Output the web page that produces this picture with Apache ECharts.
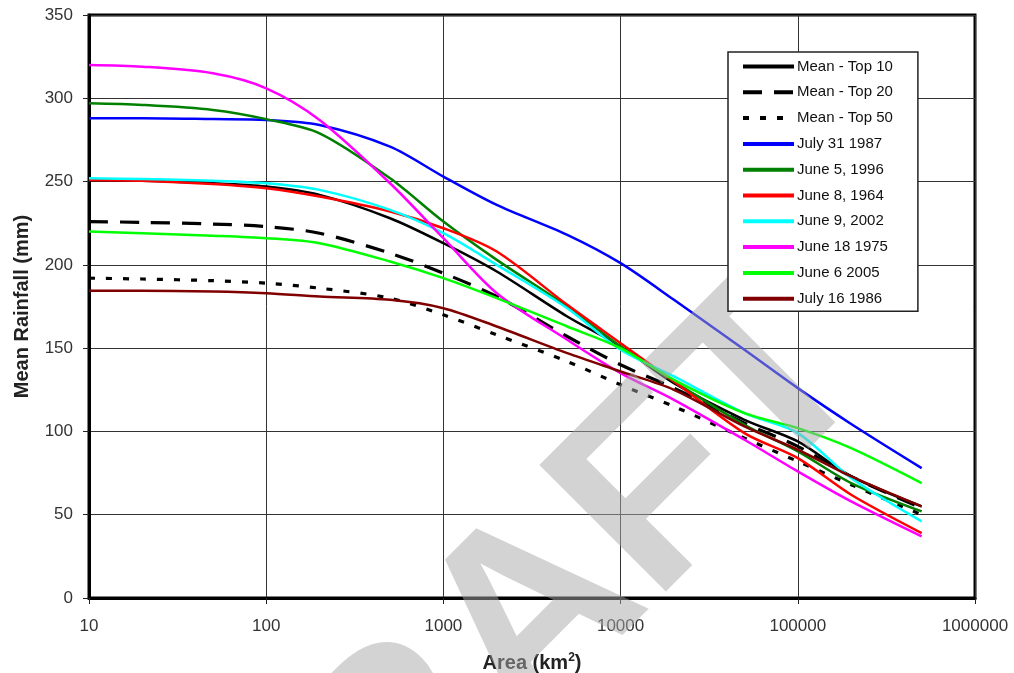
<!DOCTYPE html>
<html>
<head>
<meta charset="utf-8">
<script src="https://cdn.jsdelivr.net/npm/echarts@6/dist/echarts.min.js"></script>
<style>html,body{margin:0;padding:0;background:#fff}#c{width:1014px;height:673px}</style>
</head>
<body>
<div id="c"></div>
<script>
const areas = [10, 20, 50, 100, 200, 500, 1000, 2000, 5000, 10000, 20000, 50000, 100000, 200000, 500000];
const seriesNames = ['Mean - Top 10', 'Mean - Top 20', 'Mean - Top 50', 'July 31 1987', 'June 5, 1996', 'June 8, 1964', 'June 9, 2002', 'June 18 1975', 'June 6 2005', 'July 16 1986'];
const top10   = [251, 250.5, 249, 247, 242, 228, 213, 196, 169, 151, 129, 107, 94, 73, 55];
const top20   = [226, 225.5, 224.5, 223, 219, 207, 195, 181, 157, 140, 126, 105, 91, 73, 54];
const top50   = [192, 191.5, 190.5, 189, 186, 180, 170, 158, 142, 128, 115, 96, 82, 68, 50];
const jul1987 = [288, 288, 287.5, 287, 284, 271, 253, 236, 218, 201, 179, 149, 126, 104.5, 78];
const jun1996 = [297, 296, 293, 287.5, 279, 252, 226, 203, 175, 151, 130, 104, 88, 69, 52];
const jun1964 = [251, 250.5, 248.5, 246, 241, 232, 222, 208, 176, 153, 130, 99, 84, 62, 39];
const jun2002 = [252, 251.5, 250.5, 249, 245, 233, 219, 200, 174, 149, 133, 111, 99, 72, 46];
const jun1975 = [320, 319, 315, 306, 287, 249, 216, 183, 155, 135, 119, 95, 76, 58, 37];
const jun2005 = [220, 219, 217.5, 216, 213, 202, 192, 180, 163, 150, 131, 111, 102, 90, 69];
const jul1986 = [184.5, 184.5, 184, 183, 181, 179, 174, 163, 147, 136, 125, 103, 89, 73, 55];
const yTicks = [0, 50, 100, 150, 200, 250, 300, 350];
const xTicks = [10, 100, 1000, 10000, 100000, 1000000];

const values = [top10, top20, top50, jul1987, jun1996, jun1964, jun2002, jun1975, jun2005, jul1986];
const colors = ['#000000', '#000000', '#000000', '#0000ff', '#008000', '#ff0000', '#00ffff', '#ff00ff', '#00ff00', '#800000'];
const dashes = ['solid', [19, 12], [6, 11], 'solid', 'solid', 'solid', 'solid', 'solid', 'solid', 'solid'];
const widths = [2.5, 3.2, 3.2, 2.5, 2.5, 2.5, 2.5, 2.5, 2.5, 2.5];

const FONT = 'Liberation Sans, Arial, sans-serif';
const chart = echarts.init(document.getElementById('c'), null, {renderer: 'canvas'});

const series = values.map((vals, i) => ({
  name: seriesNames[i],
  type: 'line',
  smooth: 0.3,
  symbol: 'none',
  showSymbol: false,
  data: areas.map((a, j) => [a, vals[j]]),
  lineStyle: {color: colors[i], width: widths[i], type: dashes[i]},
  itemStyle: {color: colors[i]},
  emphasis: {disabled: true},
  z: 2
}));

chart.setOption({
  animation: false,
  backgroundColor: '#fff',
  grid: {left: 89, right: 39, top: 15, bottom: 75, show: true, borderColor: '#000', borderWidth: 3,
         backgroundColor: 'transparent', containLabel: false, outerBoundsMode: 'none'},
  legend: {
    orient: 'vertical',
    left: 728, top: 52,
    z: 20,
    padding: [7, 25, 5, 13],
    itemWidth: 51, itemHeight: 14, itemGap: 10.8,
    backgroundColor: '#fff',
    borderColor: '#222', borderWidth: 1.5,
    textStyle: {fontFamily: FONT, fontSize: 15, color: '#111', padding: [0, 0, 0, -2]},
    lineStyle: {width: 4},
    itemStyle: {opacity: 0, borderWidth: 0},
    data: seriesNames,
    selectedMode: false
  },
  xAxis: {
    type: 'log', logBase: 10, min: 10, max: 1000000,
    name: '{a|Area (km}{s|2}{a|)}',
    nameLocation: 'middle', nameGap: 54,
    nameTextStyle: {
      rich: {
        a: {fontFamily: FONT, fontSize: 20, fontWeight: 'bold', color: '#222', lineHeight: 22},
        s: {fontFamily: FONT, fontSize: 12, fontWeight: 'bold', color: '#222', verticalAlign: 'top', lineHeight: 12}
      }
    },
    axisLine: {show: true, lineStyle: {color: '#000', width: 3}},
    axisTick: {show: true, inside: false, length: 6, lineStyle: {color: '#222', width: 1}},
    minorTick: {show: false},
    splitLine: {show: true, lineStyle: {color: '#333', width: 1}},
    axisLabel: {margin: 20, fontFamily: FONT, fontSize: 17, color: '#333',
      formatter: v => String(Math.round(v))}
  },
  yAxis: {
    type: 'value', min: 0, max: 350, interval: 50,
    name: 'Mean Rainfall (mm)',
    nameLocation: 'middle', nameGap: 57, nameRotate: 90,
    nameTextStyle: {fontFamily: FONT, fontSize: 20, fontWeight: 'bold', color: '#222'},
    axisLine: {show: true, lineStyle: {color: '#000', width: 3}},
    axisTick: {show: true, inside: false, length: 6, lineStyle: {color: '#222', width: 1}},
    splitLine: {show: true, lineStyle: {color: '#333', width: 1}},
    axisLabel: {margin: 16, fontFamily: FONT, fontSize: 17, color: '#333', padding: [4, 0, 0, 0]}
  },
  graphic: [{
    type: 'text',
    x: 516, y: 640,
    rotation: 45 * Math.PI / 180,
    z: 10,
    silent: true,
    style: {
      text: 'DRAFT',
      font: 'bold 260px Liberation Sans, Arial, sans-serif',
      fill: '#a7a7a7',
      opacity: 0.5,
      textAlign: 'center',
      textVerticalAlign: 'middle'
    }
  }],
  series: series
});
</script>
</body>
</html>
